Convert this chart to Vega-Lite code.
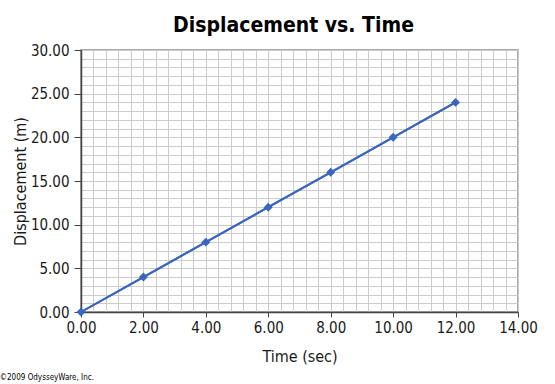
{
  "$schema": "https://vega.github.io/schema/vega-lite/v6.json",
  "width": 437,
  "height": 262,
  "autosize": {"type": "none"},
  "padding": {"left": 81, "top": 50, "right": 37, "bottom": 72},
  "background": "white",
  "title": {
    "text": "Displacement vs. Time",
    "font": "DejaVu Sans Condensed",
    "fontSize": 21,
    "fontWeight": "bold",
    "color": "#000000",
    "anchor": "middle",
    "offset": 7,
    "dx": -6
  },
  "config": {
    "view": {"stroke": "#8a8a8a", "strokeWidth": 1.5},
    "axis": {
      "labelFont": "DejaVu Sans Condensed",
      "titleFont": "DejaVu Sans Condensed",
      "labelColor": "#1a1a1a",
      "titleColor": "#1a1a1a",
      "titleFontWeight": "normal",
      "labelFlush": false
    }
  },
  "data": {
    "values": [
      {"time": 0, "disp": 0},
      {"time": 2, "disp": 4},
      {"time": 4, "disp": 8},
      {"time": 6, "disp": 12},
      {"time": 8, "disp": 16},
      {"time": 10, "disp": 20},
      {"time": 12, "disp": 24}
    ]
  },
  "resolve": {"axis": {"x": "independent", "y": "independent"}},
  "layer": [
    {
      "mark": {"type": "line", "color": "#3a66c0", "strokeWidth": 2},
      "encoding": {
        "x": {
          "field": "time", "type": "quantitative",
          "scale": {"domain": [0, 14], "nice": false, "zero": true},
          "axis": {
            "orient": "bottom",
            "values": [0,0.4,0.8,1.2,1.6,2,2.4,2.8,3.2,3.6,4,4.4,4.8,5.2,5.6,6,6.4,6.8,7.2,7.6,8,8.4,8.8,9.2,9.6,10,10.4,10.8,11.2,11.6,12,12.4,12.8,13.2,13.6,14],
            "grid": true, "gridColor": "#cccccc", "gridWidth": 1, "gridOpacity": 1,
            "labels": false, "ticks": false, "domain": false, "title": null
          }
        },
        "y": {
          "field": "disp", "type": "quantitative",
          "scale": {"domain": [0, 30], "nice": false},
          "axis": {
            "orient": "left",
            "values": [0,1,2,3,4,5,6,7,8,9,10,11,12,13,14,15,16,17,18,19,20,21,22,23,24,25,26,27,28,29,30],
            "grid": true, "gridColor": "#cccccc", "gridWidth": 1, "gridOpacity": 1,
            "labels": false, "ticks": false, "domain": false, "title": null
          }
        }
      }
    },
    {
      "mark": {"type": "line", "color": "#3a66c0", "strokeWidth": 2},
      "encoding": {
        "x": {
          "field": "time", "type": "quantitative",
          "title": "Time (sec)",
          "axis": {
            "orient": "bottom",
            "values": [0, 2, 4, 6, 8, 10, 12, 14],
            "format": ".2f",
            "grid": false,
            "domainColor": "#444444", "domainWidth": 1.5,
            "tickColor": "#444444", "tickSize": 5,
            "labelFontSize": 15, "labelPadding": 3,
            "titleFontSize": 16, "titlePadding": 13
          }
        },
        "y": {
          "field": "disp", "type": "quantitative",
          "title": "Displacement (m)",
          "axis": {
            "orient": "left",
            "values": [0, 5, 10, 15, 20, 25, 30],
            "format": ".2f",
            "grid": false,
            "domainColor": "#444444", "domainWidth": 1.5,
            "tickColor": "#444444", "tickSize": 7,
            "labelFontSize": 15, "labelPadding": 5,
            "titleFontSize": 16, "titlePadding": 2
          }
        }
      }
    },
    {
      "mark": {"type": "point", "shape": "diamond", "filled": true, "color": "#3a66c0", "size": 80, "opacity": 1},
      "encoding": {
        "x": {"field": "time", "type": "quantitative", "axis": null},
        "y": {"field": "disp", "type": "quantitative", "axis": null}
      }
    },
    {
      "data": {"values": [{"note": "©2009 OdysseyWare, Inc.", "nx": -2.6, "ny": -7.6}]},
      "mark": {"type": "text", "align": "left", "baseline": "middle", "fontSize": 8, "font": "DejaVu Sans Condensed", "color": "#000000", "clip": false},
      "encoding": {
        "x": {"field": "nx", "type": "quantitative", "axis": null},
        "y": {"field": "ny", "type": "quantitative", "axis": null},
        "text": {"field": "note"}
      }
    }
  ]
}
